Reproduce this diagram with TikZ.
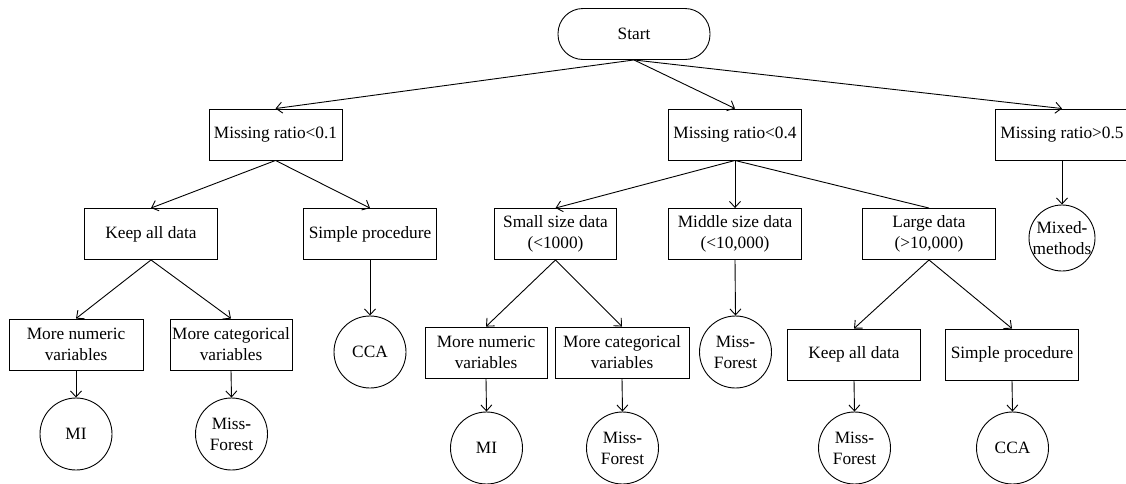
\documentclass[tikz,border=0pt]{standalone}
\usepackage{fontspec}
\setmainfont{Liberation Serif}
\usetikzlibrary{arrows.meta}
\begin{document}
\begin{tikzpicture}[x=1pt,y=-1pt,
  every node/.style={font=\fontsize{17.3}{21}\selectfont},
  box/.style={draw, line width=0.9pt, minimum width=133pt, minimum height=51pt, inner sep=2pt, align=center},
  rbox/.style={box, rounded corners=25pt, minimum width=152pt},
  circ/.style={draw, circle, line width=0.9pt, minimum size=72pt, inner sep=0pt, align=center},
  arr/.style={line width=0.9pt, -{Straight Barb[length=6pt,width=11pt]}},
  ln/.style={line width=0.9pt}]
\useasboundingbox (0,0) rectangle (1126,483);
% level 0
\node[rbox] (start) at (634,34) {Start};
% level 1
\node[box] (m1) at (275.5,134.5) {Missing ratio<0.1};
\node[box] (m2) at (735,134.5) {Missing ratio<0.4};
\node[box] (m3) at (1062,134.5) {Missing ratio>0.5};
% level 2
\node[box] (k1) at (151,234) {Keep all data};
\node[box] (s1) at (370,234) {Simple procedure};
\node[box, minimum width=122pt] (sm) at (555.5,234) {Small size data\\(<1000)};
\node[box] (md) at (735,234) {Middle size data\\(<10,000)};
\node[box] (lg) at (929,234) {Large data\\(>10,000)};
\node[circ, minimum size=66pt, label={[align=center]center:Mixed\textbf{-}\\methods}] (mx) at (1062,238) {};
% level 3
\node[box, minimum width=134pt] (n1) at (76,344.5) {More numeric\\variables};
\node[box, minimum width=122pt] (c1) at (231,344.5) {More categorical\\variables};
\node[circ] (cca1) at (370,352) {CCA};
\node[box, minimum width=122pt] (n2) at (486,352.5) {More numeric\\variables};
\node[box, minimum width=134pt] (c2) at (622,352.5) {More categorical\\variables};
\node[circ] (mf3) at (735.5,352) {Miss\textbf{-}\\Forest};
\node[box] (k2) at (854,354.5) {Keep all data};
\node[box] (s2) at (1012,354.5) {Simple procedure};
% level 4
\node[circ] (mi1) at (76,434) {MI};
\node[circ] (mf1) at (231.5,434) {Miss\textbf{-}\\Forest};
\node[circ] (mi2) at (486.5,448) {MI};
\node[circ] (mf2) at (622.5,448) {Miss\textbf{-}\\Forest};
\node[circ] (mf4) at (854.5,448) {Miss\textbf{-}\\Forest};
\node[circ] (cca2) at (1012.5,448) {CCA};
% connectors
\draw[arr] (start.south) -- (m1.north);
\draw[arr] (start.south) -- (m2.north);
\draw[arr] (start.south) -- (m3.north);
\draw[arr] (m1.south) -- (k1.north);
\draw[arr] (m1.south) -- (s1.north);
\draw[arr] (m2.south) -- (sm.north);
\draw[arr] (m2.south) -- (md.north);
\draw[ln] (m2.south) -- (lg.north);
\draw[arr] (m3.south) -- (mx.north);
\draw[arr] (k1.south) -- (n1.north);
\draw[arr] (k1.south) -- (c1.north);
\draw[arr] (s1.south) -- (cca1.north);
\draw[arr] (sm.south) -- (n2.north);
\draw[arr] (sm.south) -- (c2.north);
\draw[arr] (md.south) -- (mf3.north);
\draw[arr] (lg.south) -- (k2.north);
\draw[arr] (lg.south) -- (s2.north);
\draw[arr] (n1.south) -- (mi1.north);
\draw[arr] (c1.south) -- (mf1.north);
\draw[arr] (n2.south) -- (mi2.north);
\draw[arr] (c2.south) -- (mf2.north);
\draw[arr] (k2.south) -- (mf4.north);
\draw[arr] (s2.south) -- (cca2.north);
\end{tikzpicture}
\end{document}
